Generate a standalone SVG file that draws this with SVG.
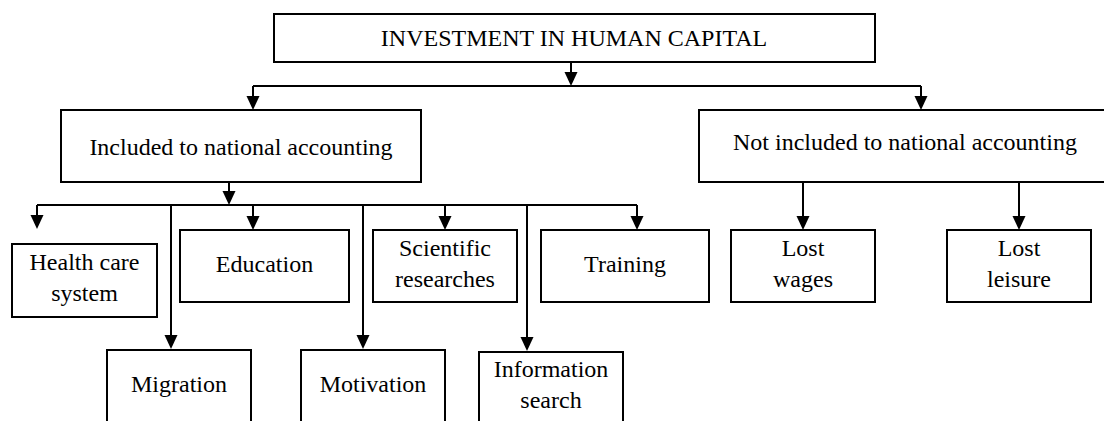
<svg xmlns="http://www.w3.org/2000/svg" width="1104" height="421" viewBox="0 0 1104 421">
<style>
.box{fill:#fff;stroke:#000;stroke-width:2}
.t{font-family:"Liberation Serif","Times New Roman",serif;font-size:24px;fill:#000;text-anchor:middle}
.c{fill:none;stroke:#000;stroke-width:2}
.a{marker-end:url(#arr)}
</style>
<defs>
<marker id="arr" viewBox="0 0 14 14" markerWidth="14" markerHeight="14" refX="6" refY="7" orient="auto" markerUnits="userSpaceOnUse">
<path d="M0,0.5 L14,7 L0,13.5 z" fill="#000"/>
</marker>
</defs>
<rect width="1104" height="421" fill="#fff"/>
<g id="connectors">
<path class="c a" d="M571,62 V78"/>
<path class="c" d="M253,86 H921"/>
<path class="c a" d="M253,86 V102"/>
<path class="c a" d="M921,86 V102"/>
<path class="c a" d="M229,182 V197"/>
<path class="c" d="M37,205 H637"/>
<path class="c a" d="M37,205 V221"/>
<path class="c a" d="M171,205 V341"/>
<path class="c a" d="M253,205 V222"/>
<path class="c a" d="M363,205 V341"/>
<path class="c a" d="M445,205 V222"/>
<path class="c a" d="M527,205 V343"/>
<path class="c a" d="M637,205 V222"/>
<path class="c a" d="M803,182 V222"/>
<path class="c a" d="M1019,182 V222"/>
</g>
<g id="n-top"><rect class="box" x="274" y="14" width="601" height="48"/><text class="t" x="574" y="46">INVESTMENT IN HUMAN CAPITAL</text></g>
<g id="n-included"><rect class="box" x="61" y="110" width="360" height="72"/><text class="t" x="241" y="155">Included to national accounting</text></g>
<g id="n-notincluded"><rect class="box" x="699" y="110" width="413" height="72"/><text class="t" x="905" y="150">Not included to national accounting</text></g>
<g id="n-health"><rect class="box" x="12" y="244" width="145" height="73"/><text class="t" x="84.5" y="270">Health care</text><text class="t" x="84.5" y="301">system</text></g>
<g id="n-education"><rect class="box" x="180" y="230" width="169" height="72"/><text class="t" x="264.5" y="272">Education</text></g>
<g id="n-scientific"><rect class="box" x="373" y="230" width="144" height="72"/><text class="t" x="445" y="256">Scientific</text><text class="t" x="445" y="287">researches</text></g>
<g id="n-training"><rect class="box" x="541" y="230" width="168" height="72"/><text class="t" x="625" y="272">Training</text></g>
<g id="n-wages"><rect class="box" x="731" y="230" width="144" height="72"/><text class="t" x="803" y="256">Lost</text><text class="t" x="803" y="287">wages</text></g>
<g id="n-leisure"><rect class="box" x="947" y="230" width="144" height="72"/><text class="t" x="1019" y="256">Lost</text><text class="t" x="1019" y="287">leisure</text></g>
<g id="n-migration"><rect class="box" x="107" y="350" width="144" height="80"/><text class="t" x="179" y="392">Migration</text></g>
<g id="n-motivation"><rect class="box" x="301" y="350" width="144" height="80"/><text class="t" x="373" y="392">Motivation</text></g>
<g id="n-information"><rect class="box" x="479" y="352" width="144" height="78"/><text class="t" x="551" y="377">Information</text><text class="t" x="551" y="408">search</text></g>
</svg>
